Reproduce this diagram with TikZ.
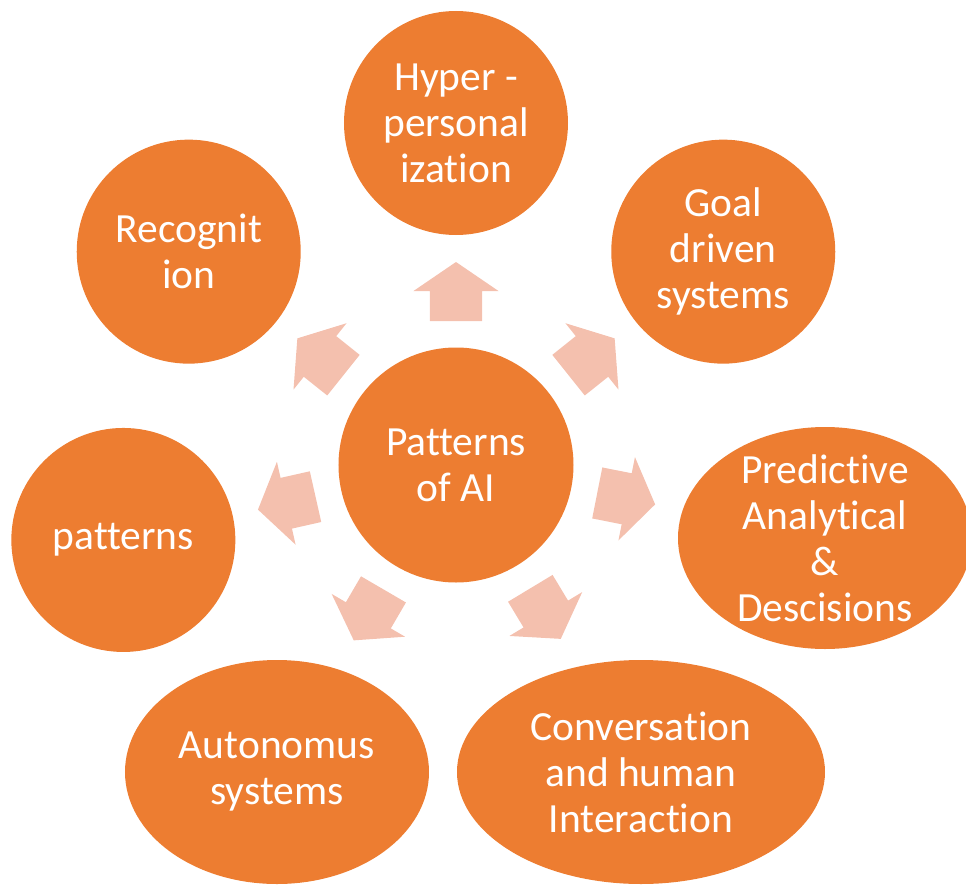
\documentclass[tikz,border=0pt]{standalone}
\usepackage{fontspec}
\setmainfont{Carlito}[Ligatures=NoCommon]
\usepackage{tikz}
\usetikzlibrary{shapes.geometric, calc}
\definecolor{accent}{HTML}{ED7D31}
\definecolor{pale}{HTML}{F4C0AE}
\tikzstyle{bubble}     = [circle, inner sep=-12pt, minimum size=224pt, fill=accent, text=white, align=center, font=\fontsize{41.5}{46}\selectfont]
\tikzstyle{oval}       = [ellipse, inner sep=-12pt, minimum height=224pt, fill=accent, text=white, align=center, font=\fontsize{41.5}{46}\selectfont]
\tikzstyle{blockarrow} = [fill=pale, to path={
    ($(\tikztostart)!144pt!(\tikztotarget)$) coordinate (ab)
    ($(\tikztostart)!174pt!(\tikztotarget)$) coordinate (ah)
    ($(\tikztostart)!203pt!(\tikztotarget)$) coordinate (at)
    ($(ab)!26pt!90:(at)$) -- ($(ah)!26pt!90:(at)$) -- ($(ah)!42.5pt!90:(at)$) -- (at)
    -- ($(ah)!42.5pt!-90:(at)$) -- ($(ah)!26pt!-90:(at)$) -- ($(ab)!26pt!-90:(at)$) -- cycle}]

\begin{document}
\begin{tikzpicture}[x=1pt, y=1pt]
    \useasboundingbox (-456,-419) rectangle (510,465);

    \node (P)  [bubble, minimum size=235pt]          at (0,0)        {Patterns\\of AI};
    \node (H)  [bubble]                              at (90:342)     {Hyper -\\personal\\ization};
    \node (G)  [bubble]                              at (38.6:342)   {Goal\\driven\\systems};
    \node (R)  [bubble]                              at (141.4:342)  {Recognit\\ion};
    \node (Pa) [bubble]                              at (192.7:341)  {patterns};
    \node (D)  [oval, minimum width=294pt, minimum height=222pt] at (369,-73) {Predictive\\Analytical\\\&\\Descisions};
    \node (C)  [oval, minimum width=368pt]           at (185,-307)   {Conversation\\and human\\Interaction};
    \node (A)  [oval, minimum width=304pt]           at (-179,-307)  {Autonomus\\systems};

    \fill [blockarrow] (P) to (H);
    \fill [blockarrow] (P) to (G);
    \fill [blockarrow] (P) to (D);
    \fill [blockarrow] (P) to (C);
    \fill [blockarrow] (P) to (A);
    \fill [blockarrow] (P) to (Pa);
    \fill [blockarrow] (P) to (R);
  \end{tikzpicture}
\end{document}
